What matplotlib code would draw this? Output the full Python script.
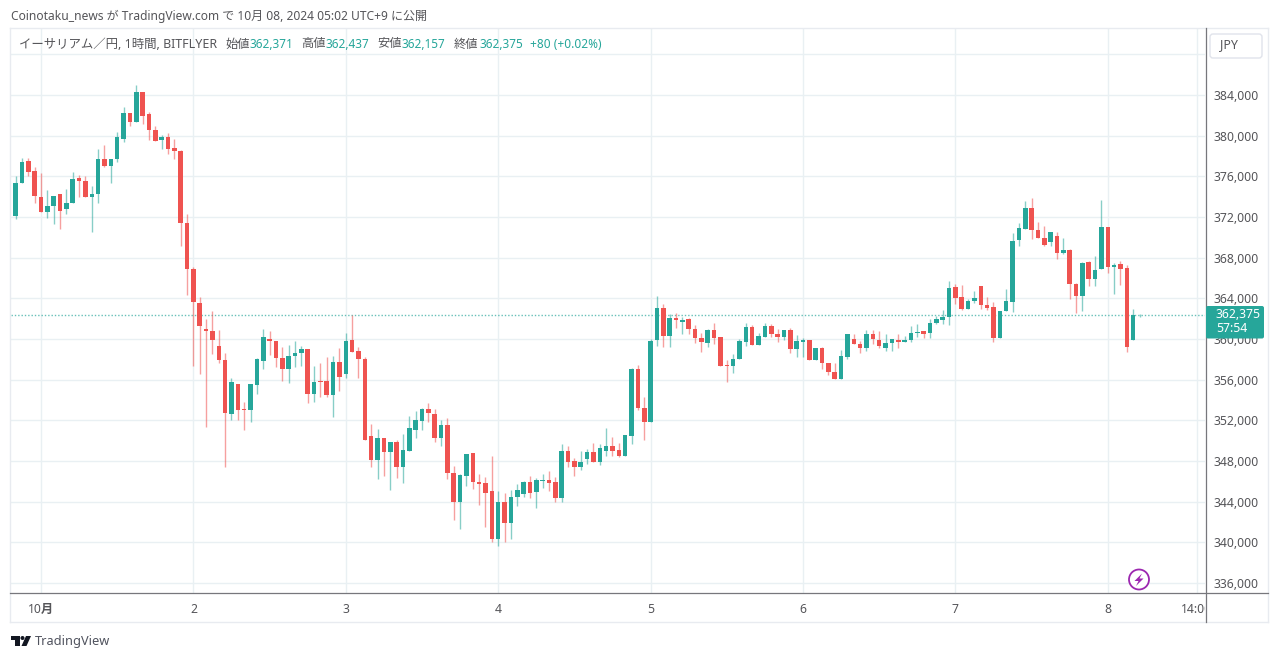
import matplotlib
matplotlib.use("Agg")
import matplotlib.pyplot as plt
import numpy as np
from matplotlib.patches import FancyBboxPatch, Rectangle, Polygon, Circle
from matplotlib.lines import Line2D
from matplotlib.transforms import Affine2D

FONT = ['Noto Sans', 'Noto Sans CJK JP', 'DejaVu Sans']
plt.rcParams['font.family'] = FONT

# hourly candles, prices in thousands of JPY
opens = [372.1,375.3,377.5,376.5,374.0,372.5,373.1,374.26,372.75,373.35,375.85,375.55,374.0,374.3,377.7,377.0,377.7,379.65,382.2,381.35,
384.3,382.1,380.55,379.55,379.9,378.75,378.5,371.4,366.9,363.5,360.95,360.8,359.3,357.95,352.6,355.6,353.1,353.0,355.5,357.85,
360.0,359.85,358.15,357.05,358.3,358.6,359.0,354.6,355.9,355.85,354.5,357.75,356.6,359.95,358.8,358.05,350.45,348.05,350.25,348.9,
349.9,347.45,349.0,351.05,351.95,353.15,352.65,350.3,351.5,346.85,343.95,346.55,348.75,345.95,345.8,345.0,340.35,344.0,341.9,344.43,
344.8,345.93,344.98,346.07,346.13,345.9,344.33,348.98,348.0,347.45,348.17,348.87,347.93,348.95,349.47,349.05,348.5,350.5,357.05,353.25,
351.8,359.9,363.0,360.3,362.03,361.7,361.93,360.98,360.1,359.64,360.92,360.2,357.4,357.35,358.0,359.74,361.18,359.4,360.23,361.28,
360.52,360.23,360.85,359.02,359.74,359.9,357.93,359.1,357.67,356.75,356.1,358.2,360.0,359.5,359.15,360.5,359.87,359.08,359.57,359.93,
359.74,359.87,360.62,360.75,360.56,361.54,361.87,362.2,365.1,364.1,362.95,363.74,365.18,363.34,363.15,360.07,362.77,363.67,369.7,370.85,
372.85,370.7,369.9,369.5,370.16,368.5,368.75,365.4,364.23,367.57,365.9,366.85,371.0,367.1,367.38,366.95,359.9,362.371]
highs = [376.0,377.8,377.8,376.9,376.3,374.66,374.1,374.3,374.75,376.46,376.1,376.0,375.05,378.65,379.1,377.7,380.4,382.8,382.2,385.0,
384.3,382.3,380.95,380.05,380.3,379.65,378.6,372.3,367.05,364.15,361.95,362.8,360.9,358.6,356.2,355.6,353.8,355.6,358.1,360.95,
360.75,359.85,359.2,359.4,359.8,359.3,359.0,357.35,357.65,358.2,358.35,359.1,360.55,362.35,359.2,358.25,351.6,351.1,350.25,349.9,
350.05,350.7,352.4,352.9,353.25,353.75,353.1,352.0,352.25,347.5,346.7,348.7,348.75,346.7,346.4,348.5,345.05,344.9,345.15,345.7,
346.03,346.5,346.36,346.7,347.0,346.45,349.67,349.47,348.33,348.98,349.15,349.75,349.63,351.2,350.4,349.8,350.55,357.1,357.4,354.25,
360.0,364.23,363.4,362.45,362.53,362.13,362.03,361.35,360.56,360.98,361.54,360.2,357.93,358.5,360.03,361.54,361.38,360.56,361.54,361.44,
360.95,360.85,361.05,360.36,360.07,359.9,359.15,359.25,357.67,357.6,358.9,360.5,360.46,359.84,360.9,360.9,360.8,360.46,359.97,360.46,
360.3,361.3,361.5,360.75,361.93,362.26,362.85,365.75,365.4,365.3,363.9,364.69,365.18,364.1,363.67,362.8,364.95,370.4,371.44,373.57,
373.84,371.5,371.1,370.56,370.56,369.93,368.82,365.48,367.54,367.7,368.16,373.67,371.0,367.44,367.67,367.25,362.92,362.437]
lows = [371.8,375.3,376.0,373.4,372.5,371.9,371.3,370.85,372.26,373.35,374.0,374.0,370.55,373.35,376.9,375.3,377.45,379.4,380.95,381.35,
381.15,379.6,379.5,378.7,378.2,377.7,369.1,364.3,357.3,356.6,351.3,358.5,357.6,347.4,352.0,352.0,351.05,351.8,354.55,357.05,
358.45,357.2,355.9,355.65,357.2,357.35,353.7,353.85,354.25,354.25,352.35,354.9,356.15,358.75,356.15,350.05,347.45,346.25,346.55,345.1,
346.3,345.8,349.0,350.3,351.05,351.8,349.9,349.5,346.2,342.2,341.3,345.55,345.25,343.7,341.5,340.05,339.6,340.05,340.3,343.6,
344.5,344.4,343.35,345.3,345.05,343.93,343.93,347.45,346.55,347.1,347.75,347.87,347.6,348.5,348.5,348.4,348.5,349.65,353.0,350.05,
351.8,359.35,359.2,359.2,361.05,360.46,360.46,359.64,358.75,359.2,359.48,357.35,355.8,356.7,358.0,359.35,359.4,359.4,360.23,360.23,
359.74,359.9,358.6,358.26,358.26,357.93,357.93,357.0,356.5,356.05,356.1,358.03,359.48,358.6,358.8,359.5,359.15,358.85,358.85,359.15,
359.67,359.74,360.23,360.13,360.13,361.48,361.48,361.4,363.44,362.85,362.92,363.57,362.95,362.85,359.7,360.07,362.77,362.7,369.1,370.85,
369.8,369.97,369.15,369.15,367.84,368.36,363.93,362.6,362.8,365.25,365.25,366.85,366.46,364.4,365.3,358.75,359.9,362.157]
closes = [375.3,377.44,376.46,374.07,372.5,373.1,374.1,372.6,373.35,375.75,375.55,374.0,374.3,377.7,377.0,377.7,379.9,382.2,381.35,384.3,
381.9,380.55,379.5,379.9,378.7,378.5,371.4,366.9,363.67,361.3,360.8,359.9,357.95,352.7,355.8,353.0,353.0,355.6,358.0,360.15,
359.8,358.1,357.05,358.3,358.6,359.05,354.6,355.8,355.8,354.5,357.75,356.3,359.85,358.75,358.05,350.07,348.05,350.25,348.9,349.9,
347.4,349.1,351.2,352.0,353.15,352.7,350.3,351.5,346.8,344.0,346.6,348.7,345.9,345.75,344.9,340.3,344.0,341.95,344.5,345.15,
345.97,344.9,346.13,346.13,345.8,344.33,348.98,347.87,347.45,347.93,348.87,347.93,349.25,349.47,349.0,348.5,350.55,357.05,353.2,351.8,
359.85,363.0,360.3,362.03,361.87,361.87,360.98,360.07,359.7,360.92,360.13,357.35,357.35,358.07,359.8,361.18,359.4,360.3,361.28,360.46,
360.23,360.85,359.02,359.8,359.9,357.93,359.15,357.6,356.8,356.1,358.33,360.5,359.48,359.15,360.5,360.0,359.35,359.57,359.97,359.74,
359.9,360.56,360.7,360.5,361.54,362.0,362.13,365.0,364.07,362.95,363.77,364.0,363.34,363.05,360.07,362.8,363.7,369.67,370.9,372.85,
370.7,369.97,369.25,370.5,368.5,368.75,365.38,364.23,367.48,365.9,366.8,371.0,367.1,367.3,366.92,359.18,362.36,362.375]

price_ticks = list(range(336, 392, 4))
price_labels = [f"{p},000" if p != 388 else "" for p in price_ticks]
day_ticks = [4, 28, 52, 76, 100, 124, 148, 172, 186]
day_labels = ['10月', '2', '3', '4', '5', '6', '7', '8', '14:00']
last_price = 362.375

W, H = 1280, 659
fig = plt.figure(figsize=(W/100, H/100), dpi=100, facecolor='white')
px = Affine2D().scale(1/W, -1/H).translate(0, 1) + fig.transFigure

GREEN, RED = '#26A69A', '#EF5350'
GRID = '#e9f0f3'
AXC = '#77777c'
TXT = '#555559'

L, R, T, B = 11, 1205, 28, 593
ax = fig.add_axes([L/W, 1-B/H, (R-L)/W, (B-T)/H], zorder=1)
ax.set_xlim((L-15.6)/6.35, (R-15.6)/6.35)
ax.set_ylim(336-(B-583)/10.167, 384+(95-T)/10.167)

ax.set_yticks(price_ticks, price_labels)
ax.yaxis.tick_right()
ax.set_xticks(day_ticks, day_labels)
ax.tick_params(axis='both', length=0, labelsize=8.8, labelcolor=TXT)
ax.tick_params(axis='y', pad=6.2)
ax.tick_params(axis='x', pad=7)
for lab in ax.get_yticklabels():
    lab.set_verticalalignment('center_baseline')
for lab in ax.get_xticklabels():
    if lab.get_text() == '14:00':
        lab.set_clip_on(True)
        lab.set_clip_path(Rectangle((1100, 590), 105, 40, transform=px))
    if lab.get_text() == '10月':
        lab.set_fontweight('bold')
ax.grid(True, color=GRID, lw=1.0)
ax.set_axisbelow(True)
for s in ax.spines.values():
    s.set_visible(False)

xs = np.arange(len(opens))
o, h, l, c = map(np.array, (opens, highs, lows, closes))
cols = [GREEN if cc >= oo else RED for oo, cc in zip(o, c)]
ax.vlines(xs, l, h, colors=cols, lw=1.0, alpha=0.55, zorder=3)
ax.bar(xs, c-o, bottom=o, width=0.72, color=cols, lw=0, zorder=4)
ax.axhline(last_price, color=GREEN, lw=1.0, ls=(0, (1, 1.4)), alpha=0.7, zorder=2)

def add(a):
    a.set_transform(px)
    fig.add_artist(a)
    return a

# frame
FR = '#e8ebf0'
for (x0, y0, x1, y1, col, z, lw) in [
    (10, 28, 1268, 28, FR, 2, 1.0), (10, 28, 10, 622, FR, 2, 1.0),
    (1268, 28, 1268, 622, FR, 2, 1.0), (10, 622, 1268, 622, FR, 2, 1.0),
    (10, 593, 1268, 593, AXC, 3, 0.9), (1205.5, 28, 1205.5, 622, AXC, 3, 0.9)]:
    fig.add_artist(Line2D([x0, x1], [y0, y1], color=col, lw=lw, transform=px, zorder=z))

def t(x, y, s, color=TXT, size=8.8, ha='left', **kw):
    return fig.text(x, y, s, color=color, fontsize=size, ha=ha, va='center',
                    transform=px, family=FONT, zorder=6, **kw)

t(11, 16, 'Coinotaku_news が TradingView.com で 10月 08, 2024 05:02 UTC+9 に公開', size=8.65)
t(19, 44, 'イーサリアム／円, 1時間, BITFLYER', size=8.95)
for x_lab, lab, x_val, val in [(225, '始値', 250, '362,371'), (301, '高値', 326, '362,437'),
                               (377.5, '安値', 402, '362,157'), (454, '終値', 479, '362,375')]:
    t(x_lab, 44, lab, size=8.8)
    t(x_val, 44, val, color=GREEN, size=8.5)
t(530, 44, '+80 (+0.02%)', color=GREEN, size=8.5)

# JPY button
add(FancyBboxPatch((1210, 34), 52, 24, boxstyle='round,pad=0,rounding_size=3',
                   fc='white', ec='#e0e3eb', lw=1.0, zorder=5))
t(1229, 45, 'JPY', size=8.9, ha='center')

# last-price box
add(FancyBboxPatch((1206, 306), 58, 32.5, boxstyle='round,pad=0,rounding_size=2',
                   fc=GREEN, ec='none', zorder=5))
t(1216, 314, '362,375', color='white', size=8.8)
t(1216, 329, '57:54', color='white', size=8.8)

# purple bolt
PUR = '#9C27B0'
add(Circle((1139, 579.5), 10, fc='white', ec=PUR, lw=1.3, zorder=5))
add(Polygon([(1142, 573.5), (1134.5, 581), (1138.5, 581), (1136, 586), (1143.5, 578.5), (1139.5, 578.5)],
            closed=True, fc=PUR, ec='none', zorder=6))

# TradingView logo
LOGO = '#131722'
add(Polygon([(11, 636), (20, 636), (20, 646), (15, 646), (15, 640), (11, 640)], closed=True, fc=LOGO, ec='none', zorder=6))
add(Circle((22.5, 638), 2, fc=LOGO, ec='none', zorder=6))
add(Polygon([(26, 636), (31, 636), (26.5, 646), (21.5, 646)], closed=True, fc=LOGO, ec='none', zorder=6))
t(35, 641, 'TradingView', color='#50535e', size=9.2)

fig.savefig('out.png', dpi=100, facecolor='white')
